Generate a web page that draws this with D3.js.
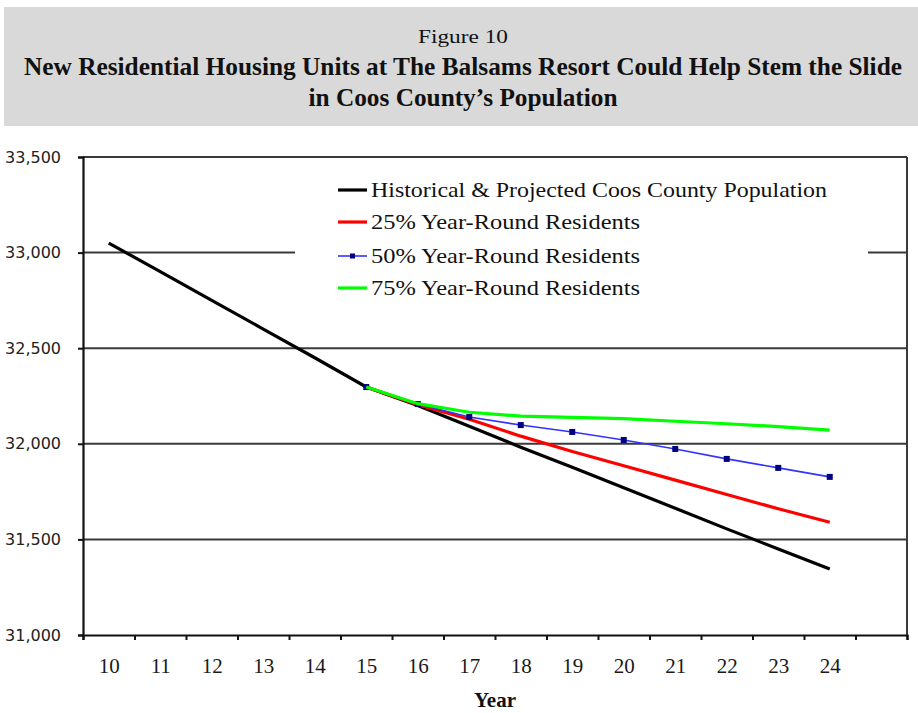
<!DOCTYPE html>
<html>
<head>
<meta charset="utf-8">
<script src="https://cdn.jsdelivr.net/npm/d3@7"></script>
<style>
  html, body { margin: 0; padding: 0; background: #fff; }
  svg { display: block; }
</style>
</head>
<body>
<svg id="chart" width="918" height="713"></svg>
<script>
// ---- Data ----
const years = [10, 11, 12, 13, 14, 15, 16, 17, 18, 19, 20, 21, 22, 23, 24];
const historical = [33050, 32900, 32750, 32600, 32450, 32297, 32200, 32092, 31982, 31877, 31770, 31663, 31555, 31450, 31345];
const scenarioYears = [15, 16, 17, 18, 19, 20, 21, 22, 23, 24];
const res25 = [32297, 32205, 32128, 32040, 31960, 31885, 31810, 31735, 31660, 31590];
const res50 = [32297, 32208, 32140, 32098, 32062, 32020, 31973, 31921, 31874, 31827];
const res75 = [32297, 32210, 32165, 32145, 32138, 32132, 32118, 32105, 32090, 32072];
const yTicks = [31000, 31500, 32000, 32500, 33000, 33500];
const seriesNames = [
  "Historical & Projected Coos County Population",
  "25% Year-Round Residents",
  "50% Year-Round Residents",
  "75% Year-Round Residents"
];
const titleLines = [
  "Figure 10",
  "New Residential Housing Units at The Balsams Resort Could Help Stem the Slide",
  "in Coos County\u2019s Population"
];
const xTitle = "Year";

// ---- Layout ----
const svg = d3.select("#chart");
const plot = { left: 83, right: 907, top: 157, bottom: 635 };
const serif = "'Liberation Serif', 'Times New Roman', serif";
const sans = "'DejaVu Sans', Tahoma, sans-serif";

// Title box
svg.append("rect").attr("x", 4).attr("y", 7).attr("width", 914).attr("height", 119).attr("fill", "#d9d9d9");
const tl = [
  { y: 43, size: 19, len: 90, weight: "normal" },
  { y: 75, size: 25, len: 878, weight: "bold" },
  { y: 106, size: 25, len: 309, weight: "bold" }
];
titleLines.forEach((t, i) => {
  svg.append("text")
    .attr("x", 463).attr("y", tl[i].y)
    .attr("text-anchor", "middle")
    .attr("font-family", serif)
    .attr("font-size", tl[i].size)
    .attr("font-weight", tl[i].weight)
    .attr("fill", "#111")
    .attr("textLength", tl[i].len)
    .attr("lengthAdjust", "spacingAndGlyphs")
    .text(t);
});

// Scales
const categories = d3.range(10, 26); // 16 category slots (last is empty)
const x = d3.scaleLinear().domain([9.5, 25.5]).range([plot.left, plot.right]);
const y = d3.scaleLinear().domain([31000, 33500]).range([plot.bottom, plot.top]);

// Gridlines
svg.append("g").selectAll("line").data(yTicks.slice(1)).join("line")
  .attr("x1", plot.left).attr("x2", plot.right)
  .attr("y1", d => y(d)).attr("y2", d => y(d))
  .attr("stroke", "#3a3a3a").attr("stroke-width", 2);

// Right border
svg.append("line").attr("x1", plot.right).attr("x2", plot.right)
  .attr("y1", plot.top).attr("y2", plot.bottom)
  .attr("stroke", "#3a3a3a").attr("stroke-width", 2);

// Legend background (covers gridline)
svg.append("rect").attr("x", 295).attr("y", 168).attr("width", 573).attr("height", 136).attr("fill", "#fff");

// Y axis
const yAxis = svg.append("g").attr("transform", `translate(${plot.left},0)`)
  .call(d3.axisLeft(y).tickValues(yTicks).tickSize(5).tickFormat(d3.format(",")));
yAxis.select(".domain").attr("stroke", "#111").attr("stroke-width", 2.2);
yAxis.selectAll(".tick line").attr("stroke", "#111").attr("stroke-width", 2);
yAxis.selectAll(".tick text")
  .attr("x", -22)
  .attr("font-family", sans).attr("font-size", 16).attr("fill", "#222");

// X axis: boundary ticks
const bounds = categories.map(c => c - 0.5).concat([25.5]);
const xAxis = svg.append("g").attr("transform", `translate(0,${plot.bottom})`)
  .call(d3.axisBottom(x).tickValues(bounds).tickSize(5).tickFormat(""));
xAxis.select(".domain").attr("stroke", "#111").attr("stroke-width", 2.2);
xAxis.selectAll(".tick line").attr("stroke", "#111").attr("stroke-width", 2);

// X labels
const xLab = svg.append("g").attr("transform", `translate(0,${plot.bottom})`)
  .call(d3.axisBottom(x).tickValues(years).tickSize(0).tickPadding(0).tickFormat(d3.format("d")));
xLab.select(".domain").remove();
xLab.selectAll(".tick text")
  .attr("y", 38).attr("dy", 0)
  .attr("font-family", serif).attr("font-size", 21).attr("fill", "#1a1a1a");

// Axis title
svg.append("text").attr("x", x(17.5)).attr("y", 707)
  .attr("text-anchor", "middle")
  .attr("font-family", serif).attr("font-size", 21).attr("font-weight", "bold")
  .attr("fill", "#111").text(xTitle);

// Lines
const line = d3.line().x(d => x(d[0])).y(d => y(d[1]));
const hist = years.map((yr, i) => [yr, historical[i]]);
const s25 = scenarioYears.map((yr, i) => [yr, res25[i]]);
const s50 = scenarioYears.map((yr, i) => [yr, res50[i]]);
const s75 = scenarioYears.map((yr, i) => [yr, res75[i]]);

svg.append("path").attr("d", line(hist)).attr("fill", "none").attr("stroke", "#000").attr("stroke-width", 3.2);
svg.append("path").attr("d", line(s25)).attr("fill", "none").attr("stroke", "#ff0000").attr("stroke-width", 3.2);
svg.append("path").attr("d", line(s50)).attr("fill", "none").attr("stroke", "#3333ff").attr("stroke-width", 1.6);
svg.append("g").selectAll("rect").data(s50).join("rect")
  .attr("x", d => x(d[0]) - 3).attr("y", d => y(d[1]) - 3)
  .attr("width", 6).attr("height", 6).attr("fill", "#000080");
svg.append("path").attr("d", line(s75)).attr("fill", "none").attr("stroke", "#00ff00").attr("stroke-width", 3.2);

// Legend
const legColors = ["#000", "#ff0000", "#3333ff", "#00ff00"];
const legWidths = [3.2, 3.2, 1.6, 3.2];
const legY = [190, 222, 256, 288];
const legLen = [456, 269, 269, 269];
seriesNames.forEach((name, i) => {
  const g = svg.append("g");
  g.append("line").attr("x1", 338).attr("x2", 367).attr("y1", legY[i]).attr("y2", legY[i])
    .attr("stroke", legColors[i]).attr("stroke-width", legWidths[i]);
  if (i === 2) {
    g.append("rect").attr("x", 350).attr("y", legY[i] - 2.5).attr("width", 5).attr("height", 5).attr("fill", "#000080");
  }
  g.append("text").attr("x", 371).attr("y", legY[i] + 7)
    .attr("font-family", serif).attr("font-size", 21).attr("fill", "#111")
    .attr("textLength", legLen[i]).attr("lengthAdjust", "spacingAndGlyphs")
    .text(name);
});
</script>
</body>
</html>
